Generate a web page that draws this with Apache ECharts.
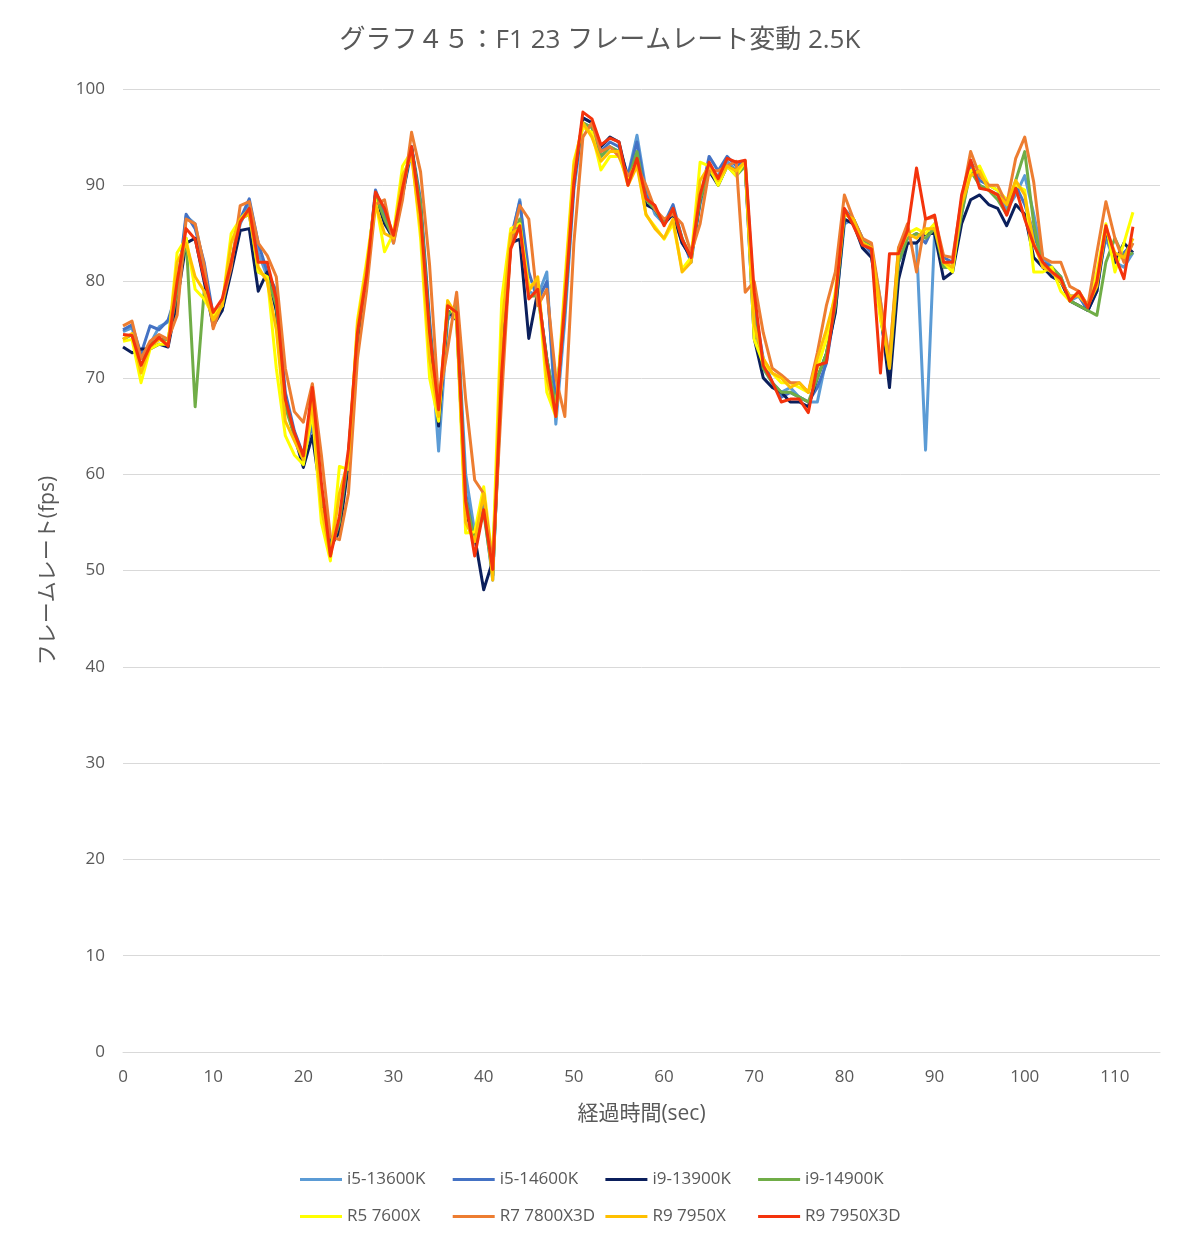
<!DOCTYPE html>
<html>
<head>
<meta charset="utf-8">
<script src="https://cdn.jsdelivr.net/npm/echarts@6/dist/echarts.min.js"></script>
<style>
html,body{margin:0;padding:0;background:#fff;}
#chart{width:1200px;height:1246px;}
</style>
</head>
<body>
<div id="chart"></div>
<script>
const TITLE = "グラフ４５：F1 23 フレームレート変動 2.5K";
const X_NAME = "経過時間(sec)";
const Y_NAME = "フレームレート(fps)";

const times = [0,1,2,3,4,5,6,7,8,9,10,11,12,13,14,15,16,17,18,19,20,21,22,23,24,25,26,27,28,29,30,31,32,33,34,35,36,37,38,39,40,41,42,43,44,45,46,47,48,49,50,51,52,53,54,55,56,57,58,59,60,61,62,63,64,65,66,67,68,69,70,71,72,73,74,75,76,77,78,79,80,81,82,83,84,85,86,87,88,89,90,91,92,93,94,95,96,97,98,99,100,101,102,103,104,105,106,107,108,109,110,111,112];

const seriesNames = ["i5-13600K","i5-14600K","i9-13900K","i9-14900K","R5 7600X","R7 7800X3D","R9 7950X","R9 7950X3D"];

const i5_13600K = [
74.8,75.2,72.0,73.5,75.3,75.8,77.0,86.8,86.0,81.5,
76.0,77.0,81.5,86.0,88.0,83.0,80.5,77.0,68.0,64.0,
61.5,67.0,58.0,52.0,55.0,61.5,73.5,80.0,89.0,86.5,
84.0,89.0,93.5,88.0,75.5,62.4,76.0,77.5,60.0,54.0,
56.5,49.0,71.0,84.0,88.5,79.0,78.5,81.0,65.2,76.0,
89.5,96.5,96.0,93.0,94.0,93.5,91.0,95.2,89.5,87.0,
86.0,87.5,84.0,82.5,88.0,91.5,91.0,92.5,91.5,92.0,
76.5,71.0,69.5,68.5,69.0,68.0,67.5,67.5,72.0,77.0,
86.0,86.5,84.5,83.5,78.0,70.5,82.0,84.0,84.0,62.5,
85.0,81.5,81.5,87.0,92.0,90.0,89.5,89.0,87.5,89.0,
91.0,87.0,82.5,81.5,80.5,78.0,78.5,77.0,80.0,84.5,
82.0,81.5,83.0];

const i5_14600K = [
75.0,75.5,72.5,75.4,75.0,76.0,79.0,87.0,85.5,82.0,
76.5,77.5,82.0,86.5,88.6,84.0,81.0,79.0,68.5,64.5,
62.0,65.0,58.5,52.5,55.0,62.0,74.0,80.5,89.5,87.0,
84.5,89.5,94.0,88.5,76.0,66.0,76.5,77.0,58.0,53.0,
57.0,49.5,70.0,84.5,88.3,81.0,78.0,80.0,67.0,77.0,
90.0,97.0,96.5,93.5,94.5,94.0,91.0,94.5,89.0,87.5,
86.0,88.0,84.5,82.0,88.5,93.0,91.5,93.0,92.0,92.5,
77.5,72.0,69.5,68.0,68.5,68.0,67.5,69.0,71.5,77.5,
87.5,86.5,84.0,83.0,76.5,70.0,82.0,84.5,85.0,84.0,
86.0,82.5,82.0,88.0,92.5,90.5,90.0,89.5,88.0,90.0,
88.0,85.0,82.0,81.5,80.0,78.5,78.5,77.0,79.0,85.0,
82.0,83.0,84.0];

const i9_13900K = [
73.2,72.6,73.0,73.0,73.5,73.2,78.0,84.0,84.5,80.0,
75.4,77.0,81.0,85.3,85.5,79.0,81.0,77.0,67.5,64.0,
60.7,64.0,57.5,52.5,54.0,61.0,74.0,80.0,89.0,86.0,
84.5,89.0,94.0,87.5,75.0,65.0,77.0,76.0,56.0,53.5,
48.0,51.0,72.0,84.0,84.4,74.1,79.0,72.0,66.5,78.0,
90.5,97.0,96.5,94.0,95.0,94.5,90.5,93.0,88.0,87.5,
86.0,87.0,84.0,82.5,88.5,91.5,90.0,92.0,91.5,92.0,
74.1,70.0,69.0,68.5,67.5,67.5,67.0,70.0,72.5,76.8,
86.5,86.0,83.5,82.5,77.0,69.0,80.2,84.0,84.0,85.0,
85.0,80.3,81.0,86.0,88.5,89.0,88.0,87.6,85.8,88.0,
87.0,82.5,81.5,80.5,80.0,78.0,77.5,77.0,79.0,85.5,
82.0,84.0,83.0];

const i9_14900K = [
74.0,74.5,72.0,73.5,74.0,74.0,79.0,84.5,67.0,79.0,
76.5,77.5,82.0,86.5,87.0,81.0,80.5,77.5,67.0,64.0,
62.0,66.0,58.5,52.0,55.0,62.0,74.5,81.0,89.0,86.5,
84.5,89.5,93.8,88.0,75.0,66.5,76.5,77.5,57.5,53.0,
56.0,49.5,70.5,84.0,86.5,78.5,78.5,72.0,67.0,77.5,
91.0,96.5,96.0,93.0,94.0,93.5,90.5,93.5,88.5,87.5,
86.0,87.5,84.5,82.5,88.5,91.5,90.5,92.0,91.0,92.0,
76.0,71.0,69.5,68.5,68.5,68.0,67.5,70.0,72.5,77.5,
87.0,86.5,84.5,83.5,77.5,71.0,82.0,84.5,85.0,84.5,
85.5,81.5,81.5,87.0,91.5,90.0,89.5,88.5,87.0,90.5,
93.5,86.0,81.5,81.5,80.5,78.0,77.5,77.0,76.5,82.0,
84.5,82.5,83.0];

const r5_7600X = [
73.8,74.0,69.5,73.0,73.5,73.5,83.0,84.5,79.2,78.2,
76.5,77.5,85.0,86.5,87.5,81.0,80.5,71.0,64.0,62.0,
61.0,66.5,55.0,51.0,60.8,60.5,76.0,82.0,88.5,83.1,
85.0,92.0,93.5,84.5,70.0,65.5,78.0,76.0,53.9,54.0,
58.7,51.0,78.2,85.5,86.0,79.5,80.0,68.5,66.0,80.0,
92.5,96.0,95.5,91.6,93.0,93.0,90.5,92.5,86.9,85.7,
84.4,86.0,81.3,82.5,92.4,92.0,90.0,92.0,91.0,92.5,
74.0,71.5,70.5,69.5,69.5,69.0,68.5,71.0,74.0,79.0,
87.5,86.0,84.0,83.5,76.0,72.0,83.5,85.0,85.5,85.0,
86.0,82.0,81.0,88.5,91.5,92.0,90.0,89.5,88.5,90.0,
89.5,81.0,81.0,81.5,79.0,78.0,79.0,77.5,81.0,86.0,
81.0,84.0,87.2];

const r7_7800X3D = [
75.4,75.9,72.0,73.8,74.5,74.0,76.5,86.5,86.0,81.7,
75.1,77.8,81.5,87.9,88.3,84.0,82.7,80.5,71.0,66.5,
65.4,69.4,62.0,53.5,53.2,58.0,72.0,79.0,88.0,88.5,
84.0,88.5,95.5,91.4,81.7,67.5,73.0,78.9,67.8,59.4,
58.0,50.5,68.0,84.0,87.9,86.5,77.5,79.2,70.0,66.0,
84.0,95.0,96.5,93.5,94.0,93.0,91.0,92.0,90.0,87.5,
86.5,87.0,86.0,83.0,86.0,91.5,91.5,92.0,92.5,78.9,
80.0,74.7,71.0,70.3,69.5,69.5,68.5,72.6,77.5,81.0,
89.0,86.5,84.5,84.0,78.0,72.0,83.5,86.0,81.0,86.5,
86.7,82.7,82.5,88.5,93.5,91.0,90.0,90.0,88.0,92.8,
95.0,90.3,82.5,82.0,82.0,79.5,79.0,77.5,83.0,88.3,
84.5,82.0,84.0];

const r9_7950X = [
74.0,74.6,70.5,73.2,74.0,73.5,82.0,84.0,80.5,79.0,
76.0,77.5,84.0,86.5,87.0,81.5,80.0,75.0,65.5,63.5,
61.5,67.5,56.5,51.5,58.0,61.5,75.5,81.5,88.0,85.0,
84.5,91.0,93.0,85.5,72.0,66.0,78.0,76.5,55.0,53.0,
58.0,49.0,75.0,85.0,85.5,79.0,80.5,70.0,66.0,79.0,
92.0,96.5,95.0,92.5,93.5,93.5,90.0,92.0,87.0,85.5,
84.5,86.5,81.0,82.0,90.5,92.0,90.5,92.0,91.5,92.5,
75.5,72.0,70.5,70.0,69.0,69.5,68.5,72.0,75.0,78.5,
87.0,86.5,84.0,83.5,77.0,71.0,83.0,85.0,84.5,85.5,
85.5,82.0,81.5,88.0,91.0,91.5,89.5,89.0,88.0,90.5,
89.0,84.0,81.5,81.0,80.0,78.5,78.5,77.5,79.5,85.5,
83.0,82.5,84.5];

const r9_7950X3D = [
74.5,74.4,71.3,73.3,74.2,73.3,80.0,85.5,84.4,80.3,
76.8,78.2,82.0,86.2,87.6,82.0,82.0,78.2,67.8,64.3,
61.9,69.0,59.1,51.5,55.6,62.6,74.7,80.6,89.3,87.6,
84.8,89.7,94.0,86.9,74.7,66.7,77.5,76.8,57.2,51.5,
56.3,50.1,70.6,83.4,85.8,78.2,79.2,71.6,66.0,77.8,
90.3,97.6,96.9,94.2,94.9,94.5,90.0,92.8,88.6,87.9,
85.8,87.6,84.4,82.5,89.0,92.4,90.7,92.8,92.4,92.6,
78.9,71.3,69.6,67.5,67.8,67.8,66.4,71.3,71.6,78.2,
87.6,85.8,83.8,83.4,70.5,82.9,82.9,85.3,91.8,86.5,
86.9,82.0,82.0,89.0,92.6,89.7,89.5,89.0,86.9,89.7,
86.5,83.8,82.0,81.0,80.3,78.0,79.0,77.3,80.0,85.8,
82.7,80.3,85.7];

const seriesValues = [i5_13600K,i5_14600K,i9_13900K,i9_14900K,r5_7600X,r7_7800X3D,r9_7950X,r9_7950X3D];
const colors = ["#5B9BD5","#4472C4","#0B1F5C","#70AD47","#FFFF00","#ED7D31","#FFC000","#F4330C"];

const xTicks = [0,10,20,30,40,50,60,70,80,90,100,110];
const yTicks = [0,10,20,30,40,50,60,70,80,90,100];

const FONT = '"Open Sans", "Noto Sans CJK JP", sans-serif';
const TXT = '#595959';

const chart = echarts.init(document.getElementById('chart'), null, {renderer:'canvas'});

const series = seriesNames.map((name, k) => ({
  name: name,
  type: 'line',
  symbol: 'none',
  showSymbol: false,
  smooth: false,
  z: 2 + k,
  lineStyle: {width: 3, color: colors[k], join: 'round'},
  itemStyle: {color: colors[k]},
  data: times.map((t, i) => [t, seriesValues[k][i]])
}));

const legends = seriesNames.map((name, k) => ({
  icon: 'rect',
  itemWidth: 42,
  itemHeight: 3,
  padding: 0,
  left: 300 + (k % 4) * 152.7,
  top: k < 4 ? 1171 : 1208,
  textStyle: {color: TXT, fontSize: 17, fontFamily: FONT},
  data: [name]
}));

chart.setOption({
  backgroundColor: '#ffffff',
  animation: false,
  color: colors,
  title: {
    text: TITLE,
    left: 'center',
    top: 23,
    textStyle: {color: TXT, fontSize: 26, fontWeight: 'normal', fontFamily: FONT}
  },
  legend: legends,
  grid: {left: 123, right: 40, top: 89, bottom: 194, containLabel: false},
  xAxis: {
    type: 'value',
    min: 0, max: 115, interval: 10,
    name: X_NAME,
    nameLocation: 'middle',
    nameGap: 52,
    nameTextStyle: {color: TXT, fontSize: 21, fontFamily: FONT},
    axisLine: {show: true, lineStyle: {color: '#D9D9D9', width: 1}},
    axisTick: {show: false},
    splitLine: {show: false},
    axisLabel: {color: TXT, fontSize: 17, fontFamily: FONT, margin: 17, showMaxLabel: false,
      formatter: v => xTicks.indexOf(v) >= 0 ? String(v) : ''}
  },
  yAxis: {
    type: 'value',
    min: 0, max: 100, interval: 10,
    name: Y_NAME,
    nameLocation: 'middle',
    nameGap: 64,
    nameRotate: 90,
    nameTextStyle: {color: TXT, fontSize: 21, fontFamily: FONT},
    axisLine: {show: false},
    axisTick: {show: false},
    splitLine: {show: true, lineStyle: {color: '#D9D9D9', width: 1}},
    axisLabel: {color: TXT, fontSize: 17, fontFamily: FONT, margin: 18,
      formatter: v => yTicks.indexOf(v) >= 0 ? String(v) : ''}
  },
  series: series
});
</script>
</body>
</html>
